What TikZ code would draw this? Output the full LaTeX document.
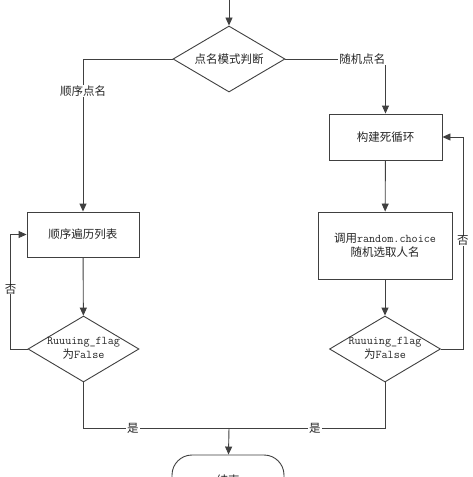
\documentclass[tikz,border=0pt]{standalone}
\usepackage{fontspec}
\setmainfont{Noto Sans CJK SC}
\usetikzlibrary{shapes.geometric,arrows.meta}
\newcommand{\mtxt}[1]{{\ttfamily\fontsize{11.8}{14}\selectfont #1}}
\begin{document}
\begin{tikzpicture}[x=1pt,y=-1pt,
  every node/.style={font=\fontsize{11.5}{14}\selectfont, text=black!85},
  ln/.style={draw=black!75, line width=0.9pt},
  arr/.style={ln, -{Triangle[length=8pt,width=7pt]}},
  box/.style={draw=black!75, line width=0.9pt, rectangle, inner sep=0pt, align=center},
  dia/.style={draw=black!75, line width=0.9pt, diamond, inner sep=0pt, minimum width=111pt, minimum height=66pt},
  lbl/.style={fill=white, inner sep=1pt}
]
\useasboundingbox (0,0) rectangle (473,477);
\clip (0,0) rectangle (473,477);
\fill[white] (0,0) rectangle (473,477);

\coordinate (top) at (229,0);
\node[dia, minimum width=112pt, label={center:点名模式判断}] (d0) at (229,59) {};
\node[box, minimum width=113pt, minimum height=46pt] (r1) at (385.5,137) {构建死循环};
\node[box, minimum width=112pt, minimum height=45pt] (l1) at (83,234.5) {顺序遍历列表};
\node[box, minimum width=134pt, minimum height=67pt] (r2) at (385,245.5) {调用\mtxt{random.choice}\\随机选取人名};
\node[dia, label={center:{\begin{tabular}{@{}c@{}}\mtxt{Ruuuing\_flag}\\为\mtxt{False}\end{tabular}}}] (l2) at (83.5,349) {};
\node[dia, label={center:{\begin{tabular}{@{}c@{}}\mtxt{Ruuuing\_flag}\\为\mtxt{False}\end{tabular}}}] (r3) at (385,349) {};
\coordinate (j) at (229,428);
\node[draw=black!75, line width=0.9pt, rounded corners=20pt, minimum width=112pt, minimum height=50pt, inner sep=0pt] (end) at (228,480) {结束};

\draw[arr] (top) -- (d0);
\draw[arr] (d0.west) -| node[lbl, pos=0.605] {顺序点名} (l1.north);
\draw[arr] (d0.east) -| node[lbl, pos=0.385] {随机点名} (r1.north);
\draw[arr] (r1) -- (r2);
\draw[arr] (l1) -- (l2);
\draw[arr] (r2) -- (r3);
\draw[arr] (l2.west) -- ++(-17,0) |- node[lbl, pos=0.26, inner sep=0pt] {否} (l1.west);
\draw[arr] (r3.east) -- ++(22,0) |- node[lbl, pos=0.255, inner sep=0pt] {否} (r1.east);
\draw[ln] (l2.south) |- node[lbl, pos=0.67] {是} (j);
\draw[ln] (j) -| node[lbl, pos=0.275] {是} (r3.south);
\draw[arr] (j) -- (end);
\end{tikzpicture}
\end{document}
